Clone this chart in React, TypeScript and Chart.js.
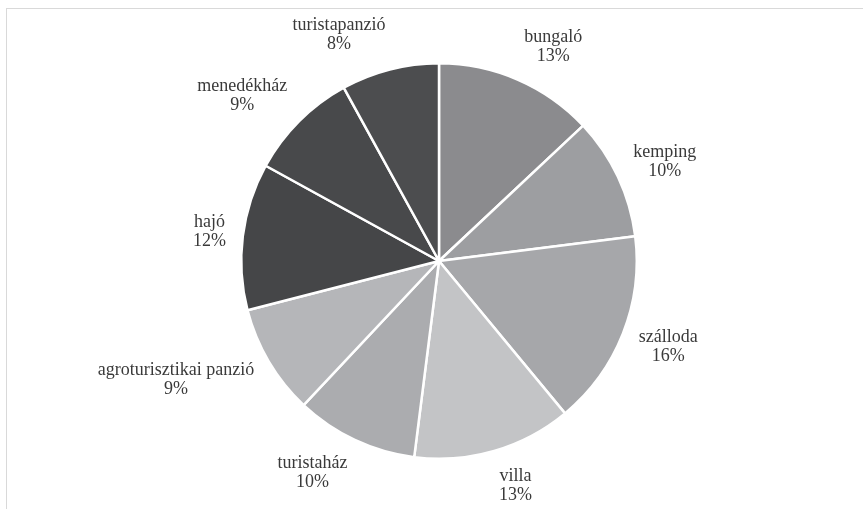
import React, { useEffect, useRef } from "react";
import { Chart, registerables } from "chart.js";

Chart.register(...registerables);

const categories: string[] = [
  "bungaló",
  "kemping",
  "szálloda",
  "villa",
  "turistaház",
  "agroturisztikai panzió",
  "hajó",
  "menedékház",
  "turistapanzió",
];

const shares: number[] = [13, 10, 16, 13, 10, 9, 12, 9, 8];

const sliceColors: string[] = [
  "#8b8b8e",
  "#9d9ea1",
  "#a6a7aa",
  "#c3c4c6",
  "#abacaf",
  "#b5b6b9",
  "#454648",
  "#48494b",
  "#4c4d4f",
];

const FAMILY = '"Liberation Serif", "Times New Roman", serif';
const FONT = "18px " + FAMILY;
const LINE_H = 19;
const LABEL_GAP = 17;

const outsideLabels = {
  id: "outsideLabels",
  afterDraw(chart: any) {
    const ctx = chart.ctx;
    const meta = chart.getDatasetMeta(0);
    const data = chart.data.datasets[0].data as number[];
    const total = data.reduce((a, b) => a + b, 0);
    ctx.save();
    ctx.font = FONT;
    ctx.fillStyle = "#3a3a3a";
    ctx.textAlign = "center";
    ctx.textBaseline = "middle";
    meta.data.forEach((arc: any, i: number) => {
      const { x, y, startAngle, endAngle, outerRadius } = arc.getProps(
        ["x", "y", "startAngle", "endAngle", "outerRadius"],
        true
      );
      const mid = (startAngle + endAngle) / 2;
      const s = Math.cos(mid);
      const c = -Math.sin(mid);
      const lines = [
        String(chart.data.labels[i]),
        Math.round((data[i] / total) * 100) + "%",
      ];
      const w = Math.max(...lines.map((l) => ctx.measureText(l).width));
      const h = lines.length * LINE_H;
      const D = outerRadius + LABEL_GAP;
      const cxl = x + D * s + Math.sign(s) * (w / 2);
      const cyl = y - D * c - c * (h / 2);
      lines.forEach((l, k) => {
        ctx.fillText(l, cxl, cyl - h / 2 + LINE_H / 2 + k * LINE_H);
      });
    });
    ctx.restore();
  },
};

export default function App() {
  const ref = useRef<HTMLCanvasElement | null>(null);

  useEffect(() => {
    document.body.style.margin = "0";
    if (!ref.current) return;
    const chart = new Chart(ref.current, {
      type: "pie",
      data: {
        labels: categories,
        datasets: [
          {
            data: shares,
            backgroundColor: sliceColors,
            borderColor: "#ffffff",
            borderWidth: 2.5,
          },
        ],
      },
      options: {
        animation: false,
        responsive: false,
        maintainAspectRatio: false,
        layout: { padding: { top: 62, bottom: 49, left: 39, right: 24 } },
        plugins: {
          legend: { display: false },
          tooltip: { enabled: false },
          title: { display: false },
        },
      },
      plugins: [outsideLabels],
    });
    let alive = true;
    const redraw = () => {
      if (alive) chart.draw();
    };
    if ((document as any).fonts) {
      (document as any).fonts.ready.then(redraw);
    }
    const t = setTimeout(redraw, 200);
    return () => {
      alive = false;
      clearTimeout(t);
      chart.destroy();
    };
  }, []);

  return (
    <div
      style={{
        position: "relative",
        width: 863,
        height: 509,
        overflow: "hidden",
        background: "#ffffff",
      }}
    >
      <div
        style={{
          position: "absolute",
          left: 6,
          top: 8,
          width: 900,
          height: 600,
          borderTop: "1.5px solid #d9d9d9",
          borderLeft: "1.5px solid #d9d9d9",
        }}
      />
      <canvas
        ref={ref}
        width={863}
        height={509}
        style={{ position: "absolute", left: 0, top: 0, width: 863, height: 509 }}
      />
    </div>
  );
}
